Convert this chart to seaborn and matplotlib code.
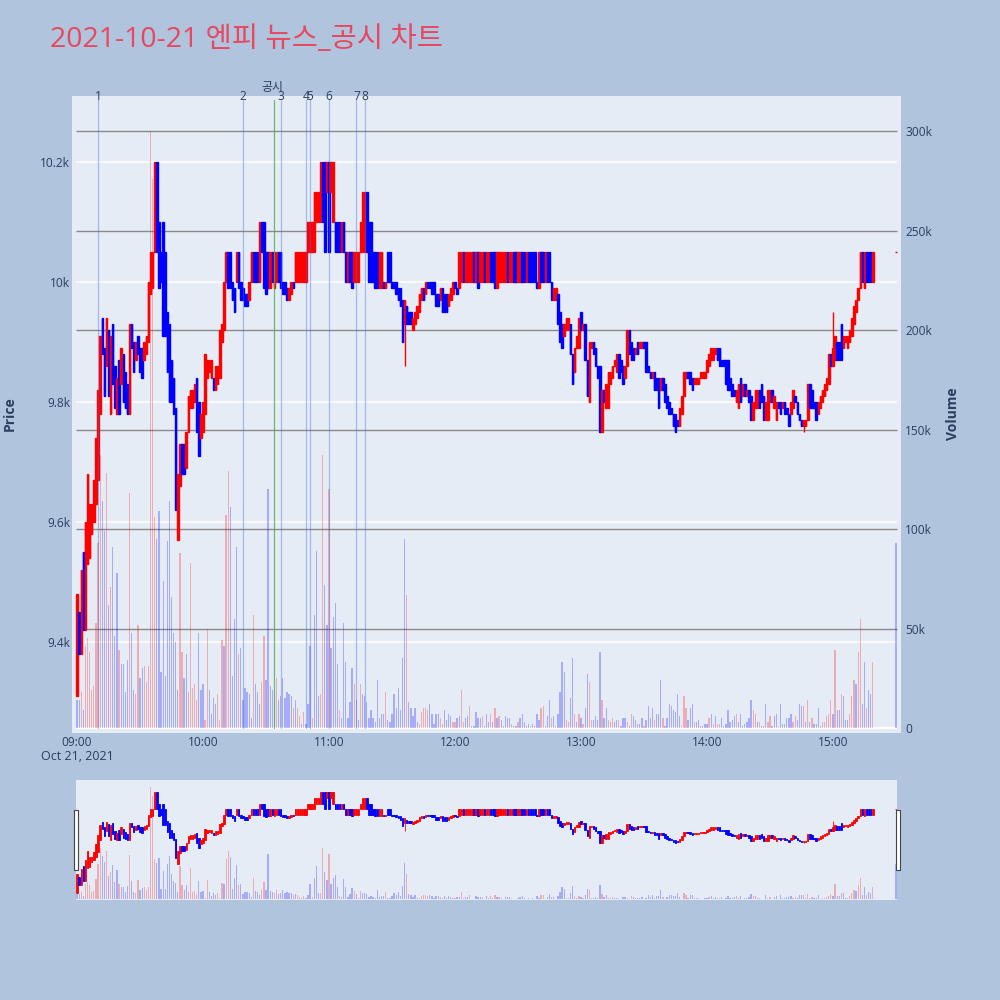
import matplotlib
matplotlib.use("Agg")
import matplotlib.pyplot as plt
import matplotlib.transforms as mtransforms
from matplotlib.patches import Rectangle
import numpy as np
import pandas as pd
import seaborn as sns

# ================================
# 1. Data (1-minute candles)
# ================================
chart_title = "2021-10-21 엔피 뉴스_공시 차트"
trade_date = "2021-10-21"
date_label = "Oct 21, 2021"

opens = [
    9310, 9450, 9380, 9550, 9420, 9530, 9540, 9580, 9600, 9630,
    9670, 9780, 9940, 9890, 9860, 9920, 9780, 9930, 9860, 9780,
    9870, 9830, 9880, 9850, 9830, 9780, 9930, 9900, 9870, 9910,
    9890, 9890, 9870, 9880, 9900, 9980, 9990, 10050, 10200, 10100,
    10050, 10100, 10050, 9950, 9930, 9870, 9840, 9790, 9570, 9660,
    9730, 9730, 9690, 9750, 9790, 9790, 9800, 9840, 9800, 9740,
    9750, 9780, 9840, 9850, 9840, 9840, 9820, 9830, 9840, 9900,
    9920, 10000, 10050, 10050, 10000, 9990, 10000, 10050, 10000, 9990,
    9980, 9980, 9970, 10000, 10050, 10050, 10050, 10000, 10100, 10100,
    10050, 10050, 9990, 10050, 9990, 10000, 10050, 10050, 10000, 10000,
    9990, 9970, 9980, 10000, 10000, 10000, 10000, 10000, 10000, 10000,
    10050, 10050, 10050, 10050, 10100, 10100, 10100, 10200, 10200, 10150,
    10200, 10150, 10100, 10100, 10100, 10100, 10050, 10100, 10050, 10000,
    10050, 10050, 10000, 10000, 10000, 10050, 10050, 10050, 10150, 10100,
    10100, 10050, 10050, 10050, 9990, 9990, 10000, 9990, 10050, 10050,
    10000, 10000, 10000, 9990, 9990, 9970, 9930, 9960, 9950, 9950,
    9920, 9930, 9940, 9950, 9970, 9990, 9980, 10000, 10000, 10000,
    10000, 9980, 9980, 9970, 9990, 9980, 9980, 9960, 9970, 9980,
    10000, 9990, 9990, 10000, 10050, 10000, 10000, 10000, 10000, 10050,
    10000, 10050, 10000, 10000, 10050, 10000, 10000, 10050, 10050, 10050,
    9990, 10000, 10000, 10000, 10000, 10050, 10000, 10000, 10050, 10050,
    10000, 10000, 10050, 10050, 10000, 10050, 10050, 10050, 10050, 10000,
    9990, 10050, 10050, 10000, 10050, 10050, 10000, 9970, 9970, 9980,
    9950, 9930, 9910, 9920, 9920, 9930, 9880, 9850, 9890, 9890,
    9950, 9920, 9930, 9870, 9800, 9890, 9900, 9890, 9860, 9860,
    9750, 9820, 9790, 9790, 9830, 9840, 9860, 9850, 9880, 9870,
    9860, 9840, 9860, 9920, 9900, 9890, 9880, 9900, 9890, 9890,
    9900, 9900, 9860, 9850, 9840, 9850, 9840, 9840, 9820, 9840,
    9830, 9810, 9800, 9790, 9780, 9780, 9770, 9760, 9780, 9810,
    9840, 9850, 9850, 9840, 9830, 9830, 9830, 9840, 9840, 9840,
    9850, 9860, 9870, 9870, 9880, 9890, 9890, 9870, 9870, 9870,
    9870, 9840, 9830, 9820, 9800, 9790, 9840, 9810, 9830, 9810,
    9820, 9810, 9770, 9790, 9790, 9820, 9830, 9810, 9770, 9770,
    9800, 9820, 9790, 9770, 9800, 9800, 9790, 9800, 9790, 9780,
    9780, 9790, 9810, 9800, 9780, 9770, 9760, 9760, 9770, 9830,
    9820, 9800, 9800, 9780, 9790, 9800, 9810, 9820, 9830, 9880,
    9860, 9870, 9900, 9900, 9930, 9890, 9900, 9890, 9900, 9910,
    9930, 9950, 9970, 9990, 10050, 9990, 10050, 10050, 10050, 10000,
    10050,
]
closes = [
    9480, 9380, 9520, 9420, 9600, 9680, 9630, 9630, 9670, 9740,
    9820, 9910, 9880, 9810, 9940, 9810, 9910, 9830, 9790, 9840,
    9780, 9890, 9800, 9790, 9780, 9930, 9890, 9850, 9900, 9880,
    9850, 9840, 9900, 9910, 10000, 10050, 10050, 10200, 10050, 9990,
    10000, 9910, 9910, 9850, 9800, 9800, 9780, 9620, 9680, 9730,
    9680, 9680, 9750, 9810, 9820, 9820, 9830, 9750, 9710, 9780,
    9800, 9880, 9870, 9870, 9870, 9820, 9860, 9860, 9920, 9930,
    10000, 10050, 9990, 9990, 9970, 9950, 10050, 9990, 9970, 9970,
    9960, 9960, 10000, 10050, 10000, 10000, 10000, 10100, 10050, 9990,
    9980, 9990, 10050, 10000, 10050, 10050, 10000, 9990, 9980, 9980,
    9970, 9990, 10000, 9990, 10050, 10050, 10050, 10050, 10050, 10050,
    10100, 10100, 10100, 10150, 10150, 10150, 10200, 10100, 10050, 10200,
    10050, 10200, 10200, 10050, 10050, 10050, 10100, 10050, 10000, 10050,
    10000, 9990, 10050, 10050, 10050, 10100, 10150, 10150, 10050, 10000,
    10000, 10000, 9990, 9990, 10050, 10050, 9990, 10000, 10000, 10000,
    9990, 9990, 9980, 9970, 9960, 9900, 9970, 9930, 9930, 9930,
    9940, 9950, 9960, 9980, 9990, 9970, 10000, 9990, 9990, 9980,
    9980, 9960, 9960, 9990, 9950, 9950, 9950, 9980, 9990, 10000,
    9990, 9980, 10050, 10050, 10000, 10050, 10050, 10050, 10050, 10000,
    10050, 9990, 10050, 10050, 10000, 10050, 10050, 10000, 10000, 9990,
    10050, 10050, 10050, 10050, 10050, 10000, 10050, 10050, 10000, 10000,
    10050, 10050, 10000, 10000, 10050, 10000, 10000, 10000, 10000, 9990,
    10050, 10000, 10000, 10050, 10000, 10000, 9970, 9990, 9990, 9930,
    9900, 9890, 9930, 9940, 9940, 9880, 9830, 9890, 9910, 9940,
    9920, 9930, 9870, 9810, 9900, 9900, 9880, 9860, 9840, 9750,
    9820, 9800, 9830, 9850, 9850, 9860, 9870, 9880, 9840, 9850,
    9830, 9860, 9920, 9880, 9870, 9870, 9890, 9880, 9900, 9900,
    9890, 9850, 9850, 9840, 9850, 9820, 9820, 9790, 9840, 9820,
    9800, 9790, 9780, 9780, 9760, 9750, 9760, 9790, 9810, 9850,
    9850, 9840, 9830, 9820, 9840, 9840, 9840, 9850, 9850, 9850,
    9870, 9880, 9890, 9890, 9890, 9870, 9860, 9860, 9860, 9830,
    9820, 9820, 9810, 9810, 9820, 9830, 9800, 9830, 9810, 9820,
    9800, 9770, 9800, 9820, 9820, 9790, 9800, 9770, 9800, 9820,
    9820, 9800, 9810, 9800, 9790, 9780, 9800, 9780, 9780, 9760,
    9800, 9820, 9800, 9780, 9770, 9760, 9770, 9770, 9830, 9790,
    9790, 9790, 9770, 9800, 9810, 9820, 9830, 9840, 9880, 9860,
    9890, 9910, 9870, 9870, 9870, 9910, 9910, 9910, 9920, 9940,
    9960, 9970, 9990, 10050, 10000, 10050, 10000, 10000, 10000, 10050,
    10050,
]
# candles whose wick reaches past the body
wick_high = {360: 9950}
wick_low = {156: 9860, 346: 9750}

# volume in thousands of shares
volumes_k = [
    14, 14, 18, 9, 41, 45, 38, 19, 21, 53,
    93, 137, 114, 99, 128, 62, 71, 91, 46, 78,
    39, 32, 32, 18, 34, 118, 48, 19, 17, 52,
    25, 30, 31, 23, 31, 300, 276, 106, 95, 109,
    28, 74, 26, 94, 114, 66, 48, 43, 19, 88,
    38, 25, 37, 18, 83, 20, 22, 14, 48, 19,
    22, 4, 50, 19, 7, 15, 12, 17, 4, 44,
    41, 107, 129, 111, 26, 55, 91, 37, 40, 14,
    20, 18, 17, 5, 57, 22, 18, 12, 23, 46,
    24, 120, 21, 19, 15, 25, 14, 16, 25, 15,
    18, 17, 16, 10, 14, 10, 6, 2, 8, 2,
    12, 41, 5, 57, 89, 16, 17, 137, 72, 52,
    120, 40, 56, 63, 32, 9, 5, 53, 33, 5,
    13, 30, 22, 14, 4, 22, 17, 16, 13, 5,
    9, 5, 3, 24, 5, 7, 7, 18, 4, 3,
    7, 17, 10, 20, 9, 35, 95, 67, 13, 10,
    6, 10, 3, 2, 8, 10, 10, 9, 12, 7,
    2, 7, 7, 5, 2, 9, 4, 7, 6, 3,
    3, 5, 6, 19, 3, 5, 6, 11, 1, 1,
    8, 5, 5, 6, 1, 7, 3, 7, 3, 10,
    5, 6, 4, 1, 6, 5, 5, 2, 1, 1,
    3, 5, 7, 3, 1, 2, 1, 2, 1, 7,
    4, 10, 11, 1, 6, 14, 5, 6, 1, 7,
    18, 33, 28, 4, 3, 15, 35, 7, 3, 7,
    5, 2, 10, 27, 23, 4, 4, 6, 4, 38,
    14, 5, 10, 4, 3, 5, 3, 4, 4, 1,
    5, 5, 3, 1, 7, 6, 4, 2, 2, 5,
    1, 4, 11, 5, 10, 4, 7, 7, 24, 5,
    1, 5, 12, 11, 9, 8, 17, 6, 1, 16,
    10, 4, 10, 12, 3, 3, 4, 1, 1, 2,
    2, 5, 7, 2, 6, 2, 2, 5, 1, 2,
    9, 3, 4, 6, 7, 3, 7, 1, 2, 3,
    5, 14, 9, 7, 3, 3, 1, 1, 12, 3,
    6, 1, 6, 7, 1, 12, 2, 2, 5, 5,
    7, 3, 6, 4, 12, 11, 11, 3, 14, 3,
    5, 2, 2, 10, 1, 3, 3, 6, 7, 14,
    7, 39, 9, 9, 17, 16, 4, 4, 7, 16,
    24, 22, 38, 55, 12, 33, 10, 19, 17, 33,
    93,
]
# p = pink (buy) bar, b = blue (sell) bar
volume_side = list(
    "bbpbpppppp" "ppbbpbpbbb" "pbbbbpbbpp" "bbppppppbb" "bbbbbbbbbp"
    "pbbpppppbb" "bppbbbbppp" "bppbbbbpbb" "bbbbpbbbpp" "bbbbppbbbb"
    "bbbpbppbpb" "bbpbbbppbb" "pbbbbpbbbb" "bbpbbpbbbb" "bbbbbbbpbb"
    "bbbbbbbpbb" "bbbpppppbb" "bbbppbbbbp" "pbbppbbpbb" "bbbpbbbpbp"
    "bpbbbbbpbb" "pbbbbbpbbb" "bppbbbpbpb" "bbbppbbpbp" "bpbbppbbbb"
    "pbbpppbbpb" "bbpbpbbbbb" "pbbbbpbbbp" "bbbbbbbbpp" "pbbbpbbbbb"
    "bpbpbppbbb" "bbbbpbbbbb" "bbppbpbbbp" "pbbbpbbbbb" "bppbbbpbpb"
    "pbbbbppppp" "bpbbpbbbpp" "pbppbbpbbp" "b"
)

news_labels = ["1", "2", "3", "4", "5", "6", "7", "8"]
news_times = ["09:10", "10:19", "10:37", "10:49", "10:51", "11:00", "11:13", "11:17"]
disclosure_label = "공시"
disclosure_time = "10:34"

price_ticks = [9400, 9600, 9800, 10000, 10200]
price_tick_labels = ["9.4k", "9.6k", "9.8k", "10k", "10.2k"]
volume_ticks = [0, 50000, 100000, 150000, 200000, 250000, 300000]
volume_tick_labels = ["0", "50k", "100k", "150k", "200k", "250k", "300k"]
hour_labels = ["09:00", "10:00", "11:00", "12:00", "13:00", "14:00", "15:00"]

# ================================
# 2. Build frame
# ================================
t0 = pd.Timestamp(f"{trade_date} 09:00")
stamps = list(pd.date_range(f"{trade_date} 09:00", f"{trade_date} 15:19", freq="min"))
stamps.append(pd.Timestamp(f"{trade_date} 15:30"))


def to_minute(hhmm):
    return (pd.Timestamp(f"{trade_date} {hhmm}") - t0).total_seconds() / 60


df = pd.DataFrame({
    "time": stamps,
    "open": opens,
    "close": closes,
    "volume": np.array(volumes_k) * 1000,
    "side": volume_side,
})
df["minute"] = (df["time"] - t0).dt.total_seconds() / 60
df["high"] = df[["open", "close"]].max(axis=1)
df["low"] = df[["open", "close"]].min(axis=1)
for k, v in wick_high.items():
    df.loc[k, "high"] = v
for k, v in wick_low.items():
    df.loc[k, "low"] = v
df["color"] = np.where(df["close"] >= df["open"], "#ff0000", "#0000ff")

# ================================
# 3. Plot
# ================================
sns.set_theme(style="white")
plt.rcParams["font.family"] = ["Open Sans", "Noto Sans CJK KR", "DejaVu Sans"]

TXT = "#2a3f5f"
BG = "#E5ECF6"
price_lim = (9248, 10310)
vol_lim = (-2500, 317600)


def draw_candles(axis, lw):
    axis.vlines(df["minute"], df["low"], df["high"], colors=df["color"], linewidth=lw, zorder=3)
    axis.bar(df["minute"], (df["close"] - df["open"]).abs(),
             bottom=df[["open", "close"]].min(axis=1), width=0.7,
             color=df["color"], edgecolor=df["color"], linewidth=lw, zorder=4)


def draw_volume(axis):
    sns.histplot(data=df, x="minute", weights="volume", hue="side",
                 hue_order=["p", "b"], palette={"p": "#ff0000", "b": "#0000ff"},
                 discrete=True, shrink=0.6, alpha=0.27, linewidth=0,
                 multiple="layer", legend=False, ax=axis)
    axis.set_xlabel("")
    axis.set_ylabel("")


def clean(axis):
    for s in axis.spines.values():
        s.set_visible(False)


fig = plt.figure(figsize=(10, 10), dpi=100)
fig.patch.set_facecolor("#B0C4DE")

main_rect = [0.072, 0.267, 0.829, 0.637]
ax_vol = fig.add_axes(main_rect)
ax_vol.set_facecolor(BG)
ax = fig.add_axes(main_rect)
ax.patch.set_visible(False)

draw_volume(ax_vol)
ax_vol.set_xlim(-2.4, 392.4)
ax_vol.set_ylim(*vol_lim)
ax.set_xlim(-2.4, 392.4)
ax.set_ylim(*price_lim)

# grid lines (price in white, volume in grey) beneath the bars
price_tf = mtransforms.blended_transform_factory(ax_vol.transData, ax.transData)
ax_vol.hlines(price_ticks, -0.5, 390.5, colors="white", linewidth=1.1,
              transform=price_tf, zorder=0)
ax_vol.hlines(volume_ticks[1:], -0.5, 390.5, colors="#8a8a8a", linewidth=1.0, zorder=0.5)
ax_vol.hlines(0, -0.5, 390.5, colors="white", linewidth=1.6, zorder=0.5)

draw_candles(ax, 1.0)

# news / disclosure markers
for lab, t in zip(news_labels, news_times):
    m = to_minute(t)
    ax.axvline(m, ymin=0.008, ymax=0.993, color="#4169e1", alpha=0.4, linewidth=0.9, zorder=6)
    ax.text(m, 0.999, lab, transform=ax.get_xaxis_transform(), ha="center", va="center",
            fontsize=8.6, color=TXT, zorder=7)
dm = to_minute(disclosure_time)
ax.axvline(dm, ymin=0.008, ymax=0.993, color="#4caf50", alpha=0.8, linewidth=0.9, zorder=6)
ax.text(dm - 0.8, 1.013, disclosure_label, transform=ax.get_xaxis_transform(), ha="center",
        va="center", fontsize=8.6, color=TXT, zorder=7)

# axes ticks
ax.set_xticks([to_minute(h) for h in hour_labels], hour_labels)
ax.set_yticks(price_ticks, price_tick_labels)
ax.tick_params(axis="both", length=0, labelsize=8.6, labelcolor=TXT)
ax.tick_params(axis="x", pad=2)
ax.tick_params(axis="y", pad=1.5)
ax_vol.set_xticks([])
ax_vol.yaxis.tick_right()
ax_vol.set_yticks(volume_ticks, volume_tick_labels)
ax_vol.tick_params(axis="y", length=0, labelsize=8.6, labelcolor=TXT, pad=3)
clean(ax)
clean(ax_vol)

fig.text(0.077, 0.243, date_label, ha="center", va="center", fontsize=9, color=TXT)
fig.text(0.010, 0.586, "Price", rotation=90, ha="center", va="center",
         fontsize=10, fontweight="bold", color=TXT)
fig.text(0.953, 0.586, "Volume", rotation=90, ha="center", va="center",
         fontsize=10, fontweight="bold", color=TXT)
fig.text(0.050, 0.960, chart_title, ha="left", va="center", fontsize=20.5, color="#E8485F")

# ================================
# 4. Range slider preview
# ================================
slider_rect = [0.076, 0.100, 0.821, 0.120]
sl_vol = fig.add_axes(slider_rect)
sl_vol.set_facecolor(BG)
sl = fig.add_axes(slider_rect)
sl.patch.set_visible(False)
draw_volume(sl_vol)
draw_candles(sl, 0.6)
for a, lim in ((sl_vol, vol_lim), (sl, price_lim)):
    a.set_xlim(-0.5, 390.5)
    a.set_ylim(*lim)
    a.set_xticks([])
    a.set_yticks([])
    clean(a)

for hx in (0.0735, 0.8955):
    fig.patches.append(Rectangle((hx, 0.130), 0.0045, 0.060, transform=fig.transFigure,
                                 facecolor="white", edgecolor="#444444", linewidth=0.8,
                                 zorder=10))

fig.savefig("out.png", dpi=100, facecolor=fig.get_facecolor())
